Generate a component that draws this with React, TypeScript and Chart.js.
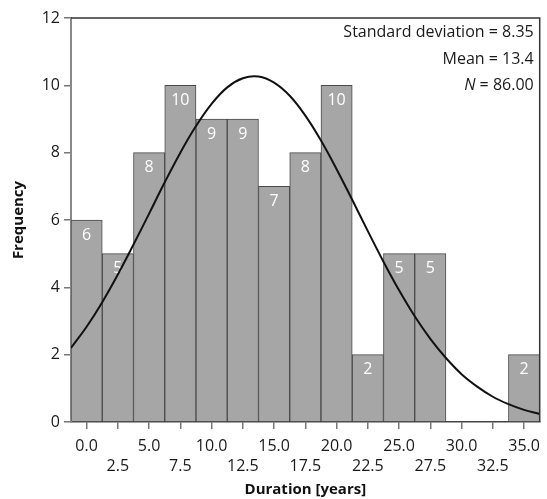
import React, { useEffect, useRef } from "react";
import { Chart, registerables } from "chart.js";

Chart.register(...registerables);

// Histogram bins (centres, years) and their frequencies
const BIN_CENTERS = [0, 2.5, 5, 7.5, 10, 12.5, 15, 17.5, 20, 22.5, 25, 27.5, 30, 32.5, 35];
const FREQUENCY = [6, 5, 8, 10, 9, 9, 7, 8, 10, 2, 5, 5, 0, 0, 2];

// Fitted normal curve
const CURVE_X = [
  -1.25, 0, 1.25, 2.5, 3.75, 5, 6.25, 7.5, 8.75, 10, 11.25, 12.5, 13.75, 15, 16.25, 17.5,
  18.75, 20, 21.25, 22.5, 23.75, 25, 26.25, 27.5, 28.75, 30, 31.25, 32.5, 33.75, 35, 36.25,
];
const CURVE_Y = [
  2.2, 2.83, 3.56, 4.38, 5.27, 6.19, 7.12, 8.0, 8.79, 9.45, 9.94, 10.21, 10.26, 10.08, 9.69, 9.1,
  8.36, 7.51, 6.6, 5.67, 4.76, 3.91, 3.14, 2.47, 1.9, 1.42, 1.05, 0.75, 0.53, 0.36, 0.24,
];

const X_TICKS = [0, 2.5, 5, 7.5, 10, 12.5, 15, 17.5, 20, 22.5, 25, 27.5, 30, 32.5, 35];
const X_MIN = -1.25;
const X_MAX = 36.25;
const Y_TICKS = [0, 2, 4, 6, 8, 10, 12];

const STATS_LINES = ["Standard deviation = 8.35", "Mean = 13.4"];
const N_LABEL = "N";
const N_VALUE = " = 86.00";

const X_TITLE = "Duration [years]";
const Y_TITLE = "Frequency";

const FONT = "'Open Sans', 'Noto Sans', sans-serif";

const barLabelPlugin = {
  id: "barLabels",
  afterDatasetDraw(chart: any, args: any) {
    if (args.index !== 0) return;
    const ctx = chart.ctx;
    const meta = chart.getDatasetMeta(0);
    ctx.save();
    ctx.fillStyle = "#ffffff";
    ctx.font = `16px ${FONT}`;
    ctx.textAlign = "center";
    ctx.textBaseline = "middle";
    meta.data.forEach((el: any, i: number) => {
      const v = FREQUENCY[i];
      if (!v) return;
      ctx.fillText(String(v), el.x, el.y + 15);
    });
    ctx.restore();
  },
};

const framePlugin = {
  id: "frame",
  afterDraw(chart: any) {
    const { ctx, chartArea } = chart;
    const { left, right, top, bottom } = chartArea;
    ctx.save();
    ctx.strokeStyle = "#333333";
    ctx.lineWidth = 1.5;
    ctx.beginPath();
    ctx.moveTo(left, top);
    ctx.lineTo(right, top);
    ctx.lineTo(right, bottom);
    ctx.stroke();

    // statistics box text
    ctx.fillStyle = "#1a1a1a";
    ctx.font = `16px ${FONT}`;
    ctx.textAlign = "right";
    ctx.textBaseline = "middle";
    const xr = right - 6;
    ctx.fillText(STATS_LINES[0], xr, top + 14);
    ctx.fillText(STATS_LINES[1], xr, top + 41);
    ctx.fillText(N_VALUE, xr, top + 67.5);
    const w = ctx.measureText(N_VALUE).width;
    ctx.font = `italic 16px ${FONT}`;
    ctx.fillText(N_LABEL, xr - w, top + 67.5);
    ctx.restore();
  },
};

export default function App() {
  const ref = useRef<HTMLCanvasElement | null>(null);

  useEffect(() => {
    if (!ref.current) return;
    Chart.defaults.font.family = FONT;
    const chart = new Chart(ref.current, {
      type: "bar",
      data: {
        datasets: [
          {
            type: "bar",
            data: BIN_CENTERS.map((x, i) => ({ x, y: FREQUENCY[i] })),
            backgroundColor: "#a6a6a6",
            borderColor: "#4a4a4a",
            borderWidth: 1,
            barPercentage: 1,
            categoryPercentage: 1,
            order: 1,
          } as any,
          {
            type: "line",
            data: CURVE_X.map((x, i) => ({ x, y: CURVE_Y[i] })),
            borderColor: "#111111",
            borderWidth: 2,
            pointRadius: 0,
            tension: 0.4,
            fill: false,
            order: 0,
          } as any,
        ],
      },
      options: {
        animation: false,
        responsive: false,
        events: [],
        layout: { padding: { top: 18, right: 3, left: 0, bottom: 0 } },
        plugins: {
          legend: { display: false },
          tooltip: { enabled: false },
        },
        scales: {
          x: {
            type: "linear",
            offset: false,
            min: X_MIN,
            max: X_MAX,
            afterBuildTicks(scale: any) {
              scale.ticks = X_TICKS.map((v) => ({ value: v }));
            },
            afterFit(scale: any) {
              scale.height = 77;
            },
            grid: {
              offset: false,
              drawOnChartArea: false,
              drawTicks: true,
              tickLength: 7,
              color: "#777777",
              lineWidth: 1.5,
            },
            border: { display: true, color: "#444444", width: 1.5 },
            ticks: {
              autoSkip: false,
              maxRotation: 0,
              padding: 7,
              color: "#1a1a1a",
              font: { size: 16, lineHeight: 1.25 },
              callback(value: any) {
                const v = Number(value);
                const s = v.toFixed(1);
                return Math.round(v / 2.5) % 2 === 0 ? [s, ""] : ["", s];
              },
            },
            title: {
              display: true,
              text: X_TITLE,
              color: "#111111",
              font: { size: 15, weight: "bold", lineHeight: 1.2 },
              padding: { top: 0, bottom: 0 },
            },
          },
          y: {
            min: 0,
            max: 12,
            afterBuildTicks(scale: any) {
              scale.ticks = Y_TICKS.map((v) => ({ value: v }));
            },
            afterFit(scale: any) {
              scale.width = 71;
            },
            grid: {
              drawOnChartArea: false,
              drawTicks: true,
              tickLength: 7,
              color: "#777777",
              lineWidth: 1.5,
            },
            border: { display: true, color: "#888888", width: 2 },
            ticks: {
              padding: 4,
              color: "#1a1a1a",
              font: { size: 16 },
            },
            title: {
              display: true,
              text: Y_TITLE,
              color: "#111111",
              font: { size: 15, weight: "bold", lineHeight: 1.2 },
              padding: { top: 10, bottom: 0 },
            },
          },
        },
      },
      plugins: [barLabelPlugin, framePlugin],
    } as any);
    return () => chart.destroy();
  }, []);

  return (
    <div style={{ position: "absolute", left: 0, top: 0, width: 547, height: 499, background: "#fff" }}>
      <canvas ref={ref} width={547} height={499} style={{ display: "block" }} />
    </div>
  );
}
